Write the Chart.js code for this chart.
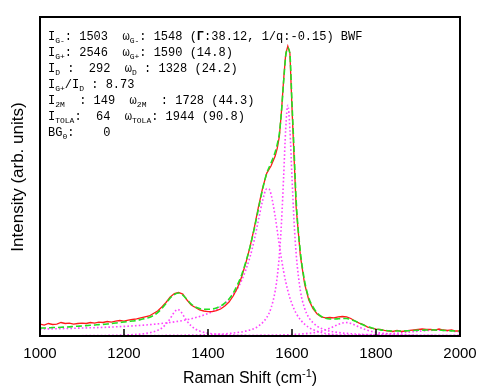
<!DOCTYPE html>
<html>
<head>
<meta charset="utf-8">
<script src="https://cdn.jsdelivr.net/npm/chart.js@4.4.1/dist/chart.umd.min.js"></script>
<style>
  html, body { margin: 0; padding: 0; background: #fff; }
  #wrap { position: relative; width: 490px; height: 390px; overflow: hidden; }
  #chart { position: absolute; left: 0; top: 0; }
  #note { position: absolute; left: 48px; top: 29px; font: 12px "Liberation Mono", "Courier New", monospace;
          line-height: 16px; color: #000; white-space: pre; }
  #note sub { font-size: 8px; vertical-align: -3px; line-height: 0; }
  #xtitle { position: absolute; left: 0; width: 500px; top: 369px; text-align: center;
            font: 16px "Liberation Sans", Arial, sans-serif; line-height: 18px; color: #000; }
  #xtitle sup { font-size: 11px; vertical-align: 6px; line-height: 0; }
  #ytitle { position: absolute; left: -132px; top: 167px; width: 300px; height: 20px; text-align: center;
            font: 17px "Liberation Sans", Arial, sans-serif; line-height: 20px; color: #000;
            transform: rotate(-90deg); }
</style>
</head>
<body>
<div id="wrap">
  <canvas id="chart" width="490" height="390"></canvas>
  <div id="note">I<sub>G-</sub>: 1503  ω<sub>G-</sub>: 1548 (<b>Γ</b>:38.12, 1/q:-0.15) BWF
I<sub>G+</sub>: 2546  ω<sub>G+</sub>: 1590 (14.8)
I<sub>D</sub> :  292  ω<sub>D</sub> : 1328 (24.2)
I<sub>G+</sub>/I<sub>D</sub> : 8.73
I<sub>2M</sub>  : 149  ω<sub>2M</sub>  : 1728 (44.3)
I<sub>TOLA</sub>:  64  ω<sub>TOLA</sub>: 1944 (90.8)
BG<sub>0</sub>:    0</div>
  <div id="xtitle">Raman Shift (cm<sup>-1</sup>)</div>
  <div id="ytitle">Intensity (arb. units)</div>
</div>
<script>
// measured spectrum and total fit share one wavenumber grid
var shift = [1000,1010,1020,1030,1040,1050,1060,1070,1080,1090,1100,1110,1120,1130,1140,1150,1160,1170,1180,1190,
  1200,1210,1220,1230,1240,1250,1260,1270,1280,1290,1300,1310,1320,1330,1340,1350,1360,1370,1380,1390,
  1400,1410,1420,1430,1440,1450,1460,1470,1480,1490,1500,1510,1520,1530,1540,1550,1560,1565,1570,1575,
  1580,1585,1590,1595,1600,1605,1610,1620,1630,1640,1650,1660,1670,1680,1690,1700,1710,1720,1730,1740,
  1750,1760,1770,1780,1790,1800,1810,1820,1830,1840,1850,1860,1870,1880,1890,1900,1910,1920,1930,1940,
  1950,1960,1970,1980,1990,2000];

var measured = [132,121,138,127,132,149,138,143,132,138,143,138,149,143,154,149,160,154,165,171,
  165,176,182,188,199,210,221,248,276,320,370,430,469,480,463,397,342,314,287,276,
  270,268,281,298,331,375,441,529,651,805,982,1191,1423,1632,1798,1875,1985,2074,2206,2482,
  2824,3110,3199,3121,2515,1963,1412,882,574,397,303,243,210,199,204,199,210,215,210,193,
  165,143,127,99,88,77,72,61,55,50,61,50,55,61,66,72,77,72,72,66,
  77,66,61,66,55,55];

var fitTotal = [88,88,90,93,94,96,99,101,105,108,110,114,118,121,126,128,132,138,143,149,
  154,160,165,171,182,193,204,226,259,303,358,419,458,474,452,403,353,320,303,296,
  295,298,309,331,364,408,474,563,673,816,982,1180,1401,1621,1798,1908,2030,2118,2239,2482,
  2802,3088,3177,3110,2570,2041,1489,927,607,419,320,254,215,195,188,188,190,193,193,182,
  165,143,121,105,88,77,68,63,58,55,55,55,57,58,61,63,64,66,66,66,
  64,62,60,57,55,53];

// fitted components
var gPlusX = [1000,1100,1200,1300,1400,1450,1500,1520,1540,1550,1560,1565,1570,1575,1580,1585,1590,
  1595,1600,1605,1610,1620,1630,1640,1660,1680,1700,1750,1800,1900,2000];
var gPlusY = [1.6,2.3,3.7,6.6,15,28,67,109,205,307,498,661,901,1256,1748,2285,2546,
  2285,1748,1256,901,498,307,205,109,67,45,22,13,6,3];

var bwfX = [1000,1050,1100,1150,1200,1250,1300,1350,1400,1430,1460,1480,1500,1510,1520,1530,1540,1545,
  1550,1560,1570,1580,1590,1600,1610,1620,1640,1660,1680,1700,1750,1800,1850,1900,2000];
var bwfY = [77,81,88,95,106,121,144,180,248,323,457,612,872,1056,1276,1494,1625,1622,
  1565,1317,998,714,502,352,250,179,95,52,28,15,2,0,1,3,7];

var dX = [1000,1100,1150,1200,1230,1250,1270,1280,1290,1300,1310,1315,1320,1325,1328,1330,1335,1340,
  1350,1360,1370,1380,1400,1430,1460,1500,1600,1700,1800,2000];
var dY = [1.7,3.5,5.6,10.7,17.8,27,46,62,88,130,192,230,265,288,292,290,271,237,
  165,111,76,55,31,16.5,10,6,2.4,1.3,0.8,0.4];

var twoMX = [1000,1200,1400,1500,1550,1600,1640,1660,1680,1700,1710,1720,1728,1740,1750,1760,1780,1800,1850,1900,2000];
var twoMY = [0.6,1,2.7,5.4,8.7,16,30,44,68,106,128,144,149,139,120,98,63,41,17,9,4];

var tolaX = [1000,1400,1600,1700,1750,1800,1850,1900,1944,2000];
var tolaY = [0.6,1.7,4.2,7.8,11.5,18,31,52,64,46];

var xTicks = [1000,1200,1400,1600,1800,2000];

function pts(xs, ys) {
  return xs.map(function(x, i) { return {x: x, y: ys[i]}; });
}

function component(xs, ys) {
  return {
    data: pts(xs, ys),
    borderColor: '#ff44ff',
    borderWidth: 1.6,
    borderDash: [1.6, 2.2],
    pointRadius: 0,
    cubicInterpolationMode: 'monotone',
    fill: false
  };
}

var frame = {
  id: 'frame',
  afterDatasetsDraw: function(chart) {
    var ctx = chart.ctx, a = chart.chartArea, x = chart.scales.x;
    ctx.save();
    ctx.strokeStyle = '#000';
    ctx.lineWidth = 2;
    ctx.strokeRect(a.left, a.top, a.right - a.left, a.bottom - a.top);
    ctx.lineWidth = 1.5;
    xTicks.forEach(function(v) {
      var px = x.getPixelForValue(v);
      if (px > a.left + 2 && px < a.right - 2) {
        ctx.beginPath();
        ctx.moveTo(px, a.bottom);
        ctx.lineTo(px, a.bottom - 7);
        ctx.stroke();
      }
    });
    ctx.restore();
  }
};

new Chart(document.getElementById('chart'), {
  type: 'line',
  data: {
    datasets: [
      {
        data: pts(shift, fitTotal),
        borderColor: '#22e022',
        borderWidth: 1.6,
        borderDash: [6, 3],
        pointRadius: 0,
        cubicInterpolationMode: 'monotone',
        fill: false
      },
      {
        data: pts(shift, measured),
        borderColor: '#ff1a1a',
        borderWidth: 1.3,
        pointRadius: 0,
        tension: 0,
        fill: false
      },
      component(gPlusX, gPlusY),
      component(bwfX, bwfY),
      component(dX, dY),
      component(twoMX, twoMY),
      component(tolaX, tolaY)
    ]
  },
  options: {
    responsive: false,
    animation: false,
    devicePixelRatio: 1,
    layout: { padding: { top: 17, right: 30, left: 0, bottom: 0 } },
    plugins: { legend: { display: false }, tooltip: { enabled: false } },
    scales: {
      x: {
        type: 'linear',
        min: 1000,
        max: 2000,
        afterFit: function(s) { s.height = 54; },
        afterBuildTicks: function(s) { s.ticks = xTicks.map(function(v) { return {value: v}; }); },
        grid: { display: false, drawTicks: false },
        border: { display: false },
        ticks: {
          padding: 9,
          color: '#000',
          maxRotation: 0,
          font: { family: '"Liberation Sans", Arial, sans-serif', size: 15 },
          callback: function(v) { return String(v); }
        }
      },
      y: {
        min: 0,
        max: 3520,
        afterFit: function(s) { s.width = 40; },
        grid: { display: false, drawTicks: false },
        border: { display: false },
        ticks: { display: false }
      }
    }
  },
  plugins: [frame]
});
</script>
</body>
</html>
